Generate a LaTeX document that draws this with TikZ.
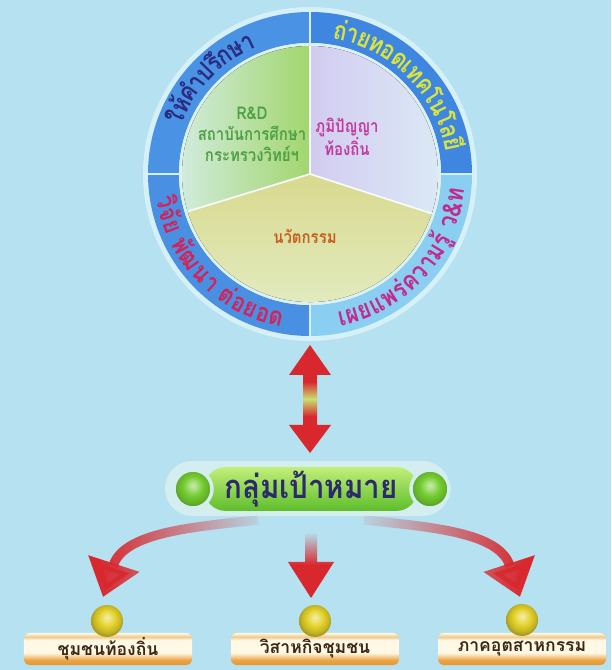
\documentclass[tikz,border=0pt]{standalone}
\usepackage{fontspec}
\usepackage{graphicx}
\newfontfamily\thaifont[Script=Thai]{Loma}
\usetikzlibrary{arrows.meta, fadings}

\definecolor{bg}{HTML}{B5E1F0}
\definecolor{rimwhite}{HTML}{D6F0F8}
\definecolor{ringtl}{HTML}{4A93E4}
\definecolor{ringtr}{HTML}{3F86E0}
\definecolor{ringbl}{HTML}{4A90E2}
\definecolor{ringbr}{HTML}{8ACFF2}
\definecolor{piegap}{HTML}{DCF1F0}
\definecolor{rdgreen}{HTML}{A2D66E}
\definecolor{rdpale}{HTML}{D2ECDF}
\definecolor{lavender}{HTML}{D2CCF0}
\definecolor{lavpale}{HTML}{DCEAF6}
\definecolor{khaki}{HTML}{D9D98E}
\definecolor{khakipale}{HTML}{E2EDC4}
\definecolor{navytext}{HTML}{2B2B82}
\definecolor{limetext}{HTML}{D9E43C}
\definecolor{crimsontext}{HTML}{D2245A}
\definecolor{magentatext}{HTML}{C22A8C}
\definecolor{rdtext}{HTML}{4FA044}
\definecolor{wisdomtext}{HTML}{C23A9C}
\definecolor{innotext}{HTML}{C65E1E}
\definecolor{arrowred}{HTML}{D8282E}
\definecolor{arrowglow}{HTML}{C8E070}
\definecolor{pillrim}{HTML}{D4EEF0}
\definecolor{pilltop}{HTML}{C2EE78}
\definecolor{pillbottom}{HTML}{5EBE2C}
\definecolor{ballgreen}{HTML}{74CC30}
\definecolor{pilltext}{HTML}{2C2A6C}
\definecolor{ballgold}{HTML}{E4D22A}
\definecolor{barorange}{HTML}{E8962A}
\definecolor{barcream}{HTML}{FFF8E4}
\definecolor{bartan}{HTML}{EFCB8E}
\definecolor{bartext}{HTML}{3A2814}

\pgfdeclareverticalshading{barshade}{100bp}{color(0bp)=(barorange); color(25bp)=(barorange); color(33bp)=(barorange!85!white); color(44bp)=(barcream); color(64bp)=(barcream); color(69bp)=(bartan); color(75bp)=(barcream); color(100bp)=(barcream)}
\pgfdeclareverticalshading{twinshade}{100bp}{color(0bp)=(arrowred); color(42bp)=(arrowred); color(50bp)=(arrowglow); color(58bp)=(arrowred); color(100bp)=(arrowred)}
\pgfdeclareverticalshading{dropshade}{100bp}{color(0bp)=(arrowred); color(50bp)=(arrowred); color(75bp)=(bg); color(100bp)=(bg)}
\pgfdeclareradialshading{goldsphere}{\pgfpoint{0bp}{6bp}}{color(0bp)=(white!60!ballgold); color(5bp)=(ballgold!60!white); color(13bp)=(ballgold); color(22bp)=(ballgold!85!black); color(25bp)=(ballgold!75!black); color(50bp)=(ballgold!75!black)}
\pgfdeclareradialshading{greensphere}{\pgfpoint{0bp}{5bp}}{color(0bp)=(white!60!ballgreen); color(5bp)=(ballgreen!60!white); color(13bp)=(ballgreen); color(22bp)=(ballgreen!85!black); color(25bp)=(ballgreen!75!black); color(50bp)=(ballgreen!75!black)}
\tikzfading[name=fade right, left color=transparent!0, right color=transparent!95]
\tikzfading[name=fade left, left color=transparent!95, right color=transparent!0]

\newdimen\glyphwd
\newcommand\ringfont{\thaifont\bfseries\fontsize{22}{22}\selectfont}
\newcommand\ringsquash{0.85}
\newcommand\ringrad{125.05}
\newcommand\measureglyph[1]{%
  \node[inner sep=0pt, outer sep=0pt] {\settowidth\glyphwd{\ringfont#1}\global\glyphwd=\glyphwd};%
}
\newcommand\ringtext[4]{%
  \gdef\ringtotal{0}%
  \foreach \cl in {#4} {%
    \measureglyph{\cl}%
    \pgfmathsetmacro\ringsum{\ringtotal+\ringsquash*\the\glyphwd}%
    \global\let\ringtotal\ringsum
  }%
  \pgfmathsetmacro\ringpos{#1-(#2)*\ringtotal/2/\ringrad*180/pi}%
  \global\let\ringcur\ringpos
  \foreach \cl in {#4} {%
    \measureglyph{\cl}%
    \pgfmathsetmacro\ringmid{\ringcur+(#2)*\ringsquash*\the\glyphwd/2/\ringrad*180/pi}%
    \node[#3, rotate=\ringmid+(#2)*90, xscale=\ringsquash] at (\ringmid:{146.5+(#2)*9}) {\cl};
    \pgfmathsetmacro\ringnext{\ringcur+(#2)*\ringsquash*\the\glyphwd/\ringrad*180/pi}%
    \global\let\ringcur\ringnext
  }%
}

\begin{document}
\begin{tikzpicture}[x=0.03cm, y=0.03cm,
  ringlabel/.style={font=\ringfont, inner sep=0pt, anchor=base},
  sectorlabel/.style={font=\thaifont\bfseries\fontsize{15}{18}\selectfont, align=center, xscale=0.85},
  pillbar/.style={rounded corners=0.63cm, minimum width=6.39cm, minimum height=1.26cm, top color=pilltop, bottom color=pillbottom, text=pilltext, font=\thaifont\bfseries\fontsize{28}{28}\selectfont},
  pillball/.style={circle, minimum size=1.14cm, draw=pillrim, line width=3pt, shading=greensphere},
  goldball/.style={circle, minimum size=0.96cm, shading=goldsphere},
  tagbar/.style={rounded corners=5pt, minimum width=5.04cm, minimum height=0.96cm, shading=barshade, text=bartext, font=\thaifont\bfseries\fontsize{15}{15}\selectfont},
  branch/.style={draw=arrowred, line width=8pt, -{Triangle[width=44pt, length=30pt]}}]
  \fill[bg] (0,0) rectangle (611,670);
  \useasboundingbox (0,0) rectangle (611,670);

  \coordinate (wheel) at (310,496);
  \begin{scope}[shift={(wheel)}]
    \fill[rimwhite] (0,0) circle (167);
    \foreach \a/\b/\c in {0/90/ringtr, 90/180/ringtl, 180/270/ringbl, 270/360/ringbr}
      \fill[\c] (\a:162) arc[start angle=\a, end angle=\b, radius=162]
        -- (\b:131) arc[start angle=\b, end angle=\a, radius=131] -- cycle;
    \fill[piegap] (0,0) circle (131);
    \fill[left color=rdpale, right color=rdgreen] (0,0) -- (90:128) arc[start angle=90, end angle=197, radius=128] -- cycle;
    \fill[left color=lavender, right color=lavpale] (0,0) -- (-18:128) arc[start angle=-18, end angle=90, radius=128] -- cycle;
    \fill[top color=khaki, bottom color=khakipale] (0,0) -- (197:128) arc[start angle=197, end angle=342, radius=128] -- cycle;
    \foreach \a in {90, 197, 342}
      \draw[white!70!piegap, line width=1.5pt] (0,0) -- (\a:128);
    \foreach \a in {0, 90, 180, 270}
      \draw[rimwhite, line width=2pt] (\a:129) -- (\a:163);
    \ringtext{136}{-1}{ringlabel, text=navytext}{ใ,ห้,คำ,ป,รึ,ก,ษ,า}
    \ringtext{45}{-1}{ringlabel, text=limetext}{ถ่,า,ย,ท,อ,ด,เ,ท,ค,โ,น,โ,ล,ยี}
    \ringtext{224}{1}{ringlabel, text=crimsontext}{วิ,จั,ย,~,พั,ฒ,น,า,~,ต่,อ,ย,อ,ด}
    \ringtext{318}{1}{ringlabel, text=magentatext}{เ,ผ,ย,แ,พ,ร่,ค,ว,า,ม,รู้,~,ว,\&,ท}
  \end{scope}
  \node[sectorlabel, text=rdtext] (rd) at (252,536) {R\&D\\สถาบันการศึกษา\\กระทรวงวิทย์ฯ};
  \node[sectorlabel, text=wisdomtext] (wisdom) at (347,533) {ภูมิปัญญา\\ท้องถิ่น};
  \node[sectorlabel, text=innotext] (innovation) at (305,434) {นวัตกรรม};

  \shade[shading=twinshade] (310,325) -- (331,295) -- (317,295) -- (317,245) -- (331,245) -- (310,217)
    -- (289,245) -- (303,245) -- (303,295) -- (289,295) -- cycle;

  \fill[pillrim, rounded corners=0.82cm] (165,154) rectangle (450,209);
  \node[pillbar] (target) at (311,181) {\scalebox{0.9}[1]{กลุ่มเป้าหมาย}};
  \node[pillball] (leftball) at (193,181) {};
  \node[pillball] (rightball) at (430,181) {};

  \coordinate (forkL) at (258,150);
  \coordinate (forkR) at (364,150);
  \coordinate (tipL) at (103,73);
  \coordinate (tipR) at (520,73);
  \draw[branch, path fading=fade right] (forkL) to[out=186, in=72] (tipL);
  \draw[branch, path fading=fade left] (forkR) to[out=-6, in=108] (tipR);
  \shade[shading=dropshade] (305,138) -- (305,108) -- (288,108) -- (311,72) -- (334,108) -- (317,108) -- (317,138) -- cycle;

  \node[tagbar] (community) at (108,21) {ชุมชนท้องถิ่น};
  \node[tagbar] (enterprise) at (315,21) {วิสาหกิจชุมชน};
  \node[tagbar] (industry) at (522,21) {ภาคอุตสาหกรรม};
  \node[goldball] (dotL) at (107,49) {};
  \node[goldball] (dotM) at (315,49) {};
  \node[goldball] (dotR) at (522,50) {};
\end{tikzpicture}
\end{document}
